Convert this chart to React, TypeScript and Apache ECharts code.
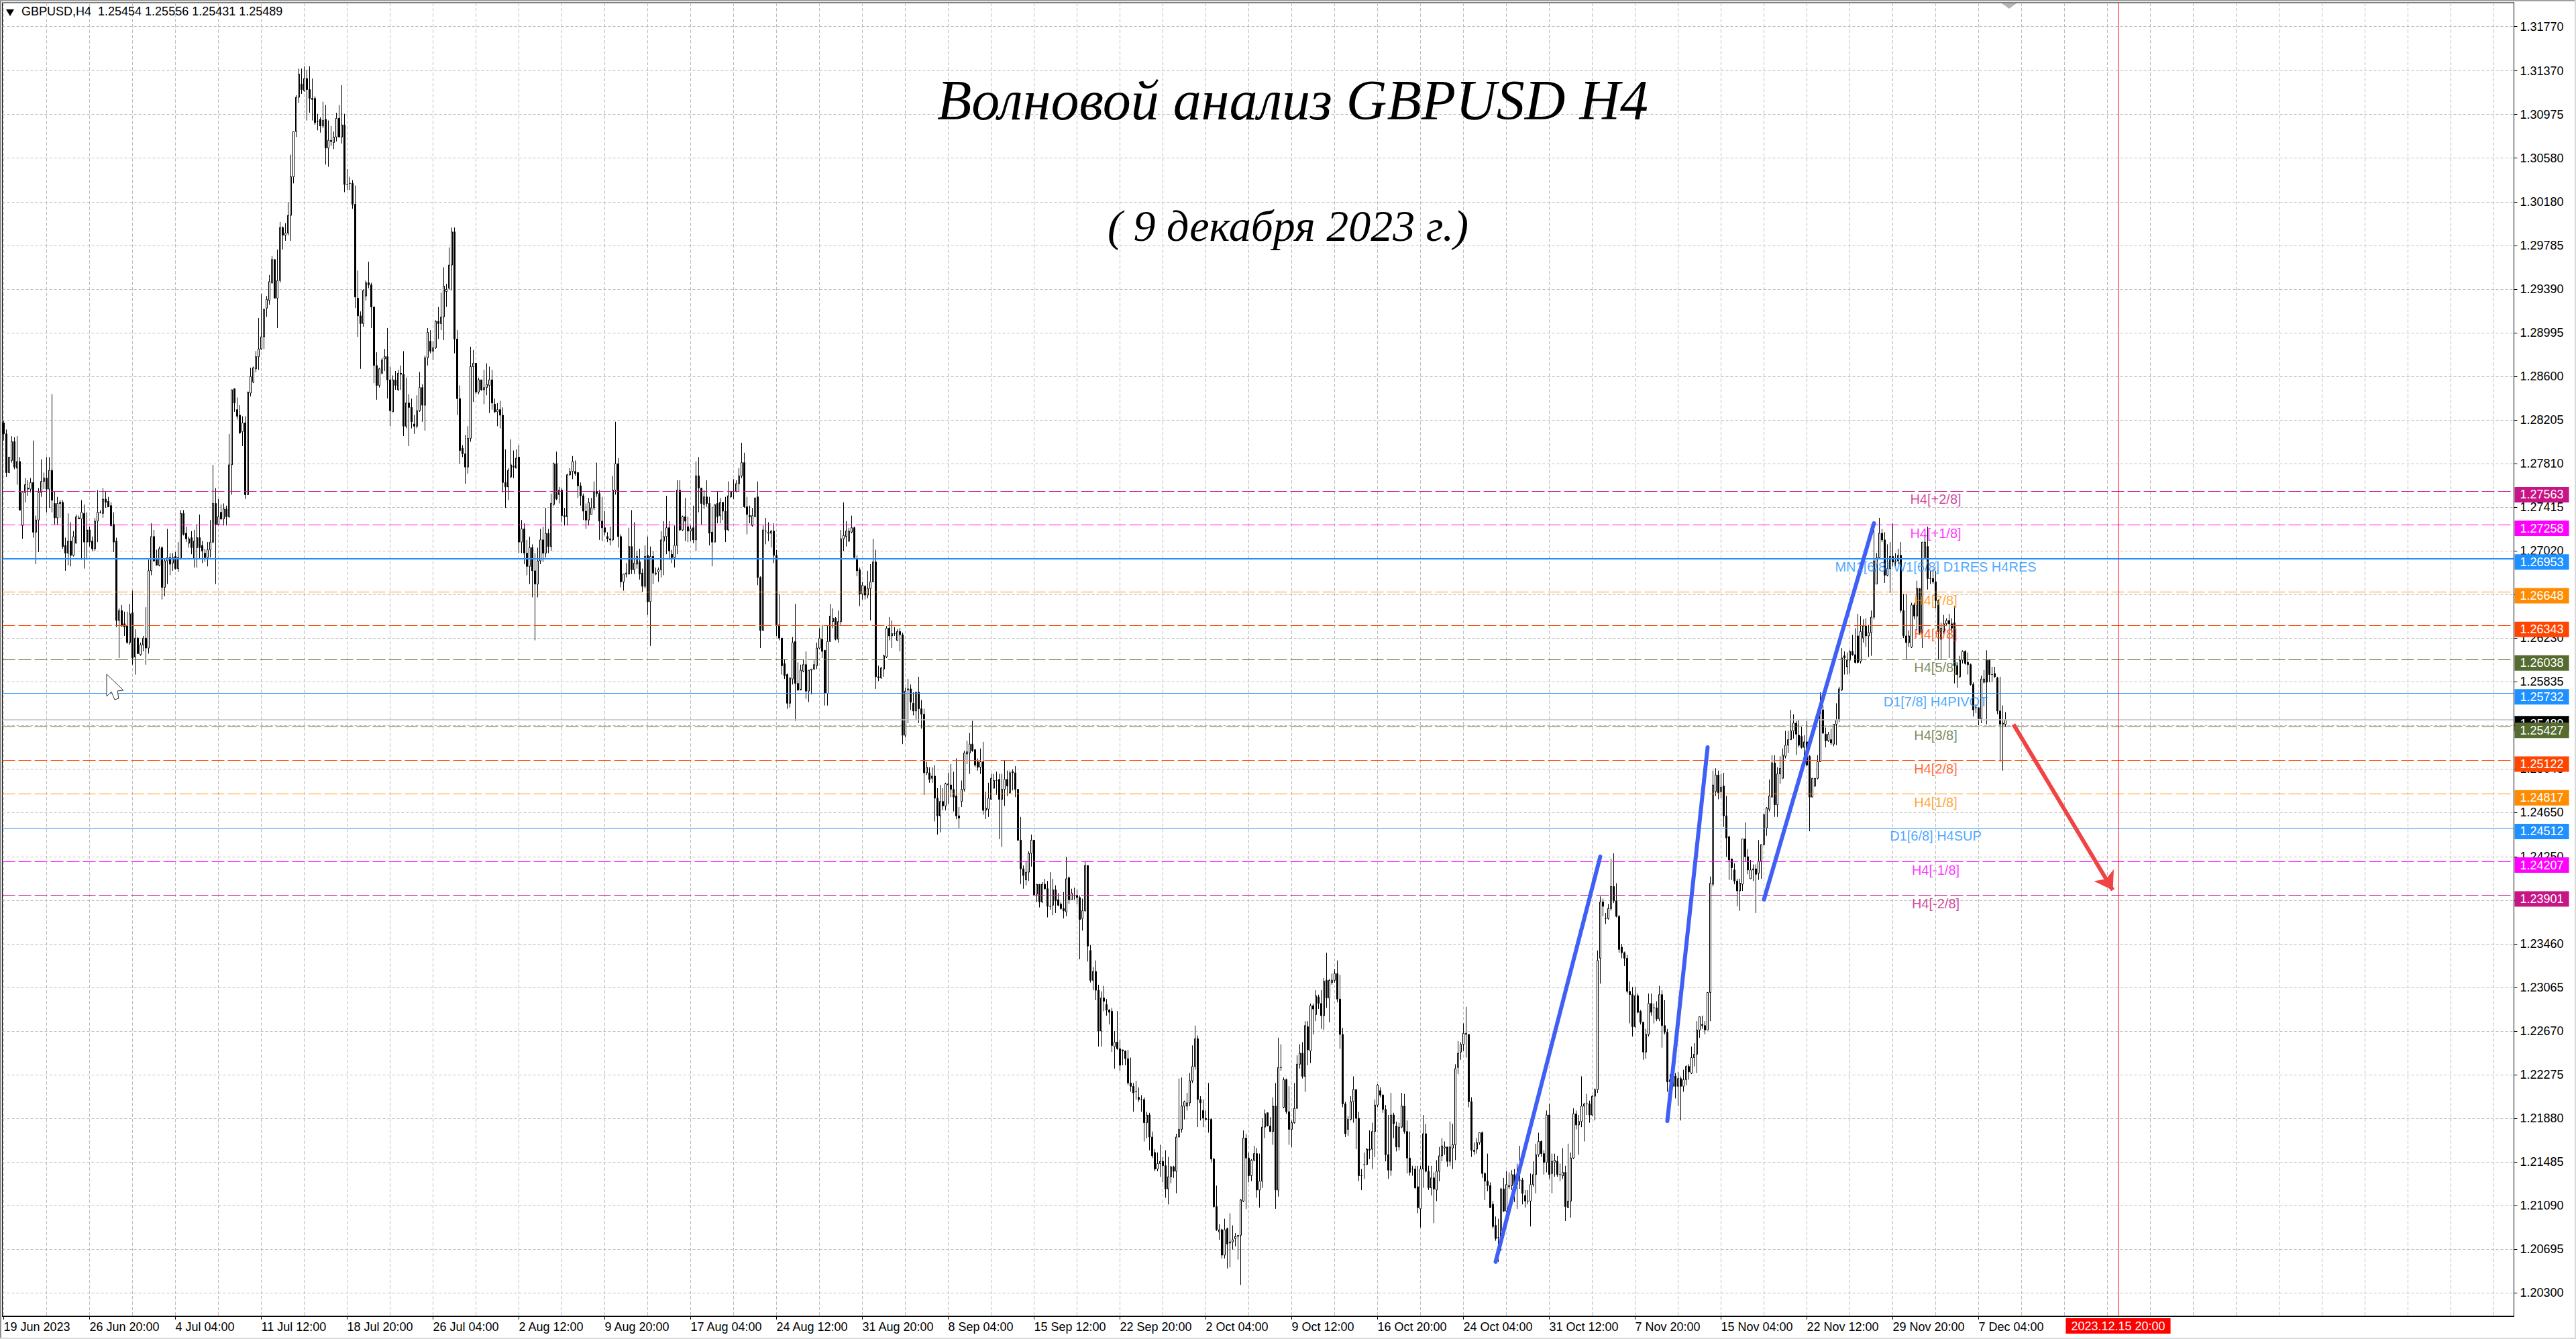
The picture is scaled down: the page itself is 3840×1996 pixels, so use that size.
import React, { useEffect, useRef } from "react";
import * as echarts from "echarts";

// All candle values: pips above 1.2000, each [open, close, low, high]
const barsJunJul = [[818,808,802,820],[808,773,769,812],[773,787,773,787],[784,801,782,806],[801,778,776,805],[777,783,762,806],[783,739,739,787],[725,755,713,755],[755,762,746,768],[758,759,752,766],
[758,764,755,768],[764,719,714,802],[719,730,690,734],[730,755,701,759],[755,765,751,785],[765,768,758,773],[768,758,737,787],[758,775,741,787],[775,748,737,844],[745,732,726,756],
[732,745,726,751],[746,745,732,748],[746,706,704,748],[707,700,684,714],[700,711,689,736],[711,698,688,728],[698,715,697,720],[709,733,709,735],[731,732,731,734],[731,737,694,748],
[736,710,686,744],[710,721,694,737],[721,710,706,724],[711,704,702,715],[704,729,702,732],[729,737,710,757],[737,737,736,739],[736,749,732,759],[749,746,741,756],[747,742,742,751],
[743,725,724,746],[726,710,701,737],[711,639,633,714],[639,648,605,650],[648,634,634,653],[636,633,625,647],[634,619,618,647],[619,645,617,654],[646,605,599,666],[606,623,590,631],
[623,609,609,624],[608,617,607,619],[617,623,611,625],[623,614,599,651],[614,684,609,694],[684,715,680,727],[715,693,692,721],[694,689,689,703],[689,704,688,706],[705,669,658,706],
[669,693,661,695],[693,696,672,722],[696,690,680,700],[691,696,684,700],[697,686,685,701],[686,696,683,710],[695,736,694,739],[736,717,716,739],[718,713,710,724],[709,713,705,715],
[714,705,699,720],[695,711,687,721],[705,714,687,726],[714,705,695,735],[707,702,691,711],[700,696,692,704],[696,703,688,710],[703,710,696,730],[710,745,709,780],[745,726,672,759],
[726,733,725,749],[737,731,730,744],[731,740,725,745],[740,733,725,743],[733,780,732,808],[780,848,753,848],[849,836,828,849],[830,824,821,841],[825,809,808,834],[810,818,797,824],
[818,753,749,824],[753,846,753,846],[845,860,842,868],[855,868,854,869],[867,878,864,883],[878,885,866,913],[885,896,884,935],[896,921,885,921],[922,930,914,933],[929,946,925,952],
[945,966,944,969],[966,931,931,966],[931,947,904,975],[947,995,945,1000],[995,988,975,996],[988,990,983,999],[990,1006,988,1018],[1006,1041,983,1061],[1041,1082,1035,1082]];

const barsJulAug = [[1082,1113,1077,1115],[1113,1134,1108,1139],[1125,1120,1116,1139],[1119,1130,1118,1141],[1130,1120,1092,1138],[1120,1112,1099,1141],[1112,1111,1092,1130],[1112,1090,1088,1114],[1091,1091,1083,1098],[1093,1087,1081,1095],
[1087,1092,1085,1109],[1093,1067,1052,1106],[1067,1074,1050,1092],[1074,1073,1069,1087],[1072,1077,1066,1082],[1077,1094,1073,1099],[1094,1077,1077,1106],[1077,1088,1071,1124],[1088,1034,1027,1098],[1034,1034,1029,1048],
[1035,1035,1029,1041],[1035,1016,1012,1038],[1016,932,922,1033],[931,915,896,956],[915,908,867,919],[908,938,905,939],[933,945,929,947],[945,943,940,964],[943,923,904,945],[923,870,854,923],
[870,852,839,882],[852,867,850,868],[863,875,862,877],[876,878,865,885],[878,857,840,904],[857,829,815,869],[828,857,828,861],[857,852,848,865],[848,863,847,866],[863,862,848,870],
[862,815,806,883],[815,836,813,859],[836,832,797,844],[832,819,813,840],[817,815,808,825],[815,829,813,843],[829,850,828,864],[850,834,819,853],[834,877,811,879],[877,900,870,904],
[892,883,881,902],[883,886,875,892],[886,910,885,911],[910,908,894,923],[908,914,902,936],[914,942,893,959],[937,939,923,944],[940,961,939,977],[961,991,938,995],[991,894,881,995],
[894,840,825,902],[840,793,781,852],[795,790,787,798],[790,778,763,807],[778,804,772,815],[804,869,801,887],[869,872,837,884],[872,846,844,872],[846,857,844,859],[857,848,847,857],
[848,850,835,866],[850,853,843,872],[852,857,827,869],[857,836,830,866],[835,828,827,840],[828,830,815,836],[830,825,813,838],[825,764,755,832],[764,760,741,794],[760,775,748,777],
[769,780,768,803],[779,778,768,793],[777,786,777,794],[787,710,700,798],[710,722,700,730],[722,700,690,727],[700,688,680,712],[688,705,672,715],[705,684,660,708],[684,672,621,700],
[672,693,660,705],[693,712,690,722],[712,700,692,724],[700,718,696,741],[718,706,700,722],[706,745,702,754],[744,781,743,782],[781,749,748,792],[753,757,745,760],[757,734,728,759],
[734,733,725,741],[733,771,725,772],[771,774,770,777],[774,783,767,788],[774,772,770,784],[773,761,750,773],[761,752,743,764],[752,738,730,754],[738,730,722,745],[730,746,725,750]];

const barsAugSep = [[735,741,735,750],[741,756,739,765],[756,754,751,782],[754,729,712,757],[729,723,711,751],[723,719,716,738],[715,713,710,719],[713,712,707,724],[712,757,711,770],[757,781,753,819],
[781,715,705,786],[715,674,669,717],[674,681,666,681],[681,682,678,691],[681,706,681,723],[706,685,681,739],[685,691,681,728],[690,697,686,702],[692,681,676,704],[682,670,665,686],
[670,697,668,707],[698,656,644,715],[656,697,616,706],[697,682,672,702],[681,682,680,687],[683,685,674,687],[685,712,678,720],[711,715,680,729],[715,723,699,752],[723,702,694,729],
[699,696,691,703],[696,707,687,725],[707,757,699,766],[757,721,720,766],[721,733,720,734],[733,729,711,750],[724,720,710,733],[720,722,711,725],[723,712,709,743],[712,770,702,783],
[770,759,737,787],[759,745,726,759],[744,751,740,757],[751,745,742,766],[745,718,707,751],[719,710,688,742],[710,744,710,744],[745,733,727,756],[734,746,727,750],[746,738,730,746],
[738,721,710,751],[721,752,720,765],[751,756,750,756],[756,756,749,767],[756,763,755,766],[763,770,756,777],[770,782,768,800],[782,742,741,791],[742,735,717,751],[734,733,727,743],
[725,734,724,741],[733,750,733,750],[751,678,671,765],[678,630,614,679],[630,721,630,725],[720,720,708,732],[718,719,711,728],[718,720,705,721],[720,698,691,727],[698,635,625,703],
[635,623,621,663],[623,598,590,623],[600,589,586,604],[590,564,559,591],[564,587,560,587],[586,619,581,624],[620,582,548,654],[582,576,575,601],[576,594,577,599],[593,599,592,604],
[599,575,568,611],[575,594,565,594],[594,595,572,595],[595,599,594,603],[598,614,595,619],[614,623,613,632],[622,611,605,635],[612,573,562,612],[573,620,562,634],[620,643,620,654],
[638,641,632,650],[641,622,621,642],[622,638,619,648],[638,713,635,721],[713,716,702,746],[715,720,706,729],[711,720,710,723],[719,723,718,734],[723,696,695,724],[695,684,679,698],
[685,663,652,687],[663,671,658,674],[670,662,658,671],[662,668,659,684],[668,674,639,690],[674,692,674,713],[692,588,577,703],[588,587,584,598],[587,596,586,597],[595,607,588,608]];

const barsSepOct = [[606,632,605,634],[632,625,621,642],[625,627,614,639],[627,627,625,633],[621,629,621,631],[629,626,611,632],[626,535,527,628],[535,575,533,578],[576,577,546,586],[577,565,558,581],
[564,557,553,574],[557,574,549,574],[574,559,546,588],[559,554,541,567],[554,501,481,559],[501,506,499,511],[501,495,492,506],[496,498,492,506],[498,478,457,508],[478,462,445,487],
[462,475,447,490],[475,471,467,487],[471,491,467,492],[490,491,473,501],[490,486,479,509],[486,479,466,502],[480,462,459,514],[462,460,451,470],[475,486,470,494],[486,519,484,521],
[518,520,509,530],[519,527,500,537],[527,521,520,548],[522,508,506,522],[511,506,503,514],[506,511,500,523],[511,467,463,529],[467,469,459,484],[468,478,461,492],[477,496,477,500],
[487,494,487,500],[494,494,481,502],[495,477,441,500],[477,486,434,500],[486,495,471,512],[495,489,480,503],[483,501,482,503],[502,501,485,504],[501,486,479,507],[486,440,439,486],
[440,414,400,461],[414,408,396,417],[404,411,399,421],[411,428,403,430],[428,440,416,445],[440,390,390,440],[391,400,384,400],[400,384,379,400],[384,400,383,402],[400,396,395,405],
[396,380,370,403],[380,380,377,411],[381,395,372,405],[395,385,374,399],[386,381,380,392],[382,378,377,384],[378,376,369,393],[375,405,371,425],[406,386,382,407],[386,392,386,396],
[390,390,386,397],[390,388,382,395],[388,368,332,390],[369,376,358,387],[376,417,375,421],[417,344,330,417],[340,313,311,345],[313,321,304,325],[321,304,295,331],[304,267,253,309],
[267,297,253,303],[297,294,285,308],[291,286,281,296],[286,284,273,287],[285,254,248,288]];

const barsOctNov = [[253,257,233,267],[257,251,250,285],[251,236,231,259],[250,249,236,250],[249,242,236,249],[242,220,218,250],[220,217,212,243],[217,211,194,220],[212,212,205,222],[207,205,203,216],
[205,205,194,209],[205,184,167,207],[184,191,170,194],[191,171,159,193],[171,154,152,176],[157,142,140,160],[142,147,140,157],[147,149,135,164],[149,145,130,153],[145,124,116,159],
[124,135,110,153],[135,144,129,145],[144,140,134,145],[140,171,120,174],[171,178,171,224],[178,199,175,225],[199,203,187,204],[199,202,195,211],[202,222,199,229],[222,235,220,254],
[235,260,232,272],[260,205,180,263],[205,202,186,208],[195,188,180,205],[188,187,186,195],[187,187,175,220],[187,151,148,188],[151,108,107,152],[108,87,86,127],[85,87,78,92],
[87,64,61,88],[64,87,61,97],[88,74,52,89],[75,76,53,102],[76,78,69,91],[79,81,72,84],[81,82,60,82],[82,114,37,115],[113,170,112,177],[170,152,106,174],
[152,136,130,157],[136,150,131,151],[150,156,149,163],[156,123,116,161],[123,131,107,156],[131,180,125,188],[180,192,170,196],[193,181,181,193],[181,176,176,189],[176,199,164,207],
[199,123,106,220],[123,234,117,261],[234,234,231,255],[198,223,197,225],[223,194,192,224],[194,178,164,217],[178,184,162,186],[184,197,183,220],[197,237,197,245],[237,247,233,255],
[247,226,224,257],[226,272,212,276],[271,250,236,276],[249,290,238,292],[290,287,264,292],[282,299,276,304],[298,292,287,300],[292,281,269,304],[281,312,268,315],[313,297,288,338],
[297,313,275,314],[311,313,309,319],[313,319,311,323],[319,296,293,331],[296,264,251,318],[264,201,198,270],[201,174,171,203],[178,187,172,190],[187,203,186,208],[203,214,184,226],
[214,188,160,214],[188,136,131,194],[136,136,123,142],[146,146,133,157],[146,160,146,161],[160,159,151,177],[160,176,142,184],[176,200,153,205],[200,218,198,219],[213,209,207,216],
[209,196,193,210],[196,155,149,200],[155,141,133,191],[141,191,136,211],[191,183,170,193],[181,162,158,185],[162,180,159,184],[180,199,179,211],[199,176,174,210],[176,152,138,186],
[152,139,136,176],[142,142,136,145],[142,125,124,145],[126,107,102,145],[106,142,89,145],[142,174,125,191],[174,140,139,183],[140,125,123,145],[125,134,118,145],[134,124,93,139],
[123,140,113,150],[140,154,131,162],[154,163,149,170],[161,162,155,167],[162,149,144,162],[149,162,145,185],[161,164,142,183],[164,233,150,237],[234,247,228,258],[248,255,241,257]];

const barsOctCut = [[255,265,249,274],[264,265,243,289],[264,203,198,264],[203,159,153,207],[159,158,155,166],[160,166,156,170],[166,175,164,175],[175,138,134,176],[138,131,114,139],[131,127,122,156],
[127,107,107,130],[110,90,88,113],[91,79,77,99],[80,80,58,97],[80,124,68,125],[124,104,103,134],[104,128,103,140],[126,127,124,139],[127,137,123,141],[137,128,112,142],
[128,137,106,147],[132,132,124,163],[132,120,110,134],[118,113,107,123],[113,113,110,123],[113,128,90,138],[128,137,126,149],[137,155,120,165],[155,167,153,175],[167,156,153,168],
[156,148,137,159],[148,191,139,195],[191,137,133,201],[138,149,120,156],[148,150,135,156],[149,137,135,154],[137,137,131,147],[136,139,133,161],[139,108,95,145],[107,113,107,165],
[113,152,98,157],[152,192,151,197],[192,182,178,195],[182,185,155,191],[185,199,180,226],[199,201,167,202],[201,201,191,210],[201,191,184,204],[191,208,190,209],[208,214,186,215],
[214,331,211,340],[333,384,310,389],[384,380,371,387],[369,369,364,374],[369,378,368,382],[378,398,376,423],[398,385,383,428],[385,371,370,401],[371,341,338,372],[343,338,333,346],
[338,333,326,339],[333,303,301,336],[303,300,274,312],[300,271,262,307],[271,299,270,307],[299,284,283,301],[285,275,273,286],[275,248,241,275],[248,264,242,269],[264,292,262,301],
[292,284,281,301],[288,288,274,292],[288,278,276,294],[278,300,276,308],[300,272,252,304],[272,266,264,295],[266,221,212,269],[221,223,218,228],[223,217,215,238],[226,217,206,229],
[217,224,199,230],[224,217,186,226],[217,223,212,232],[223,235,218,236],[235,230,223,237],[229,243,228,253],[243,246,235,256],[246,268,229,276],[268,280,261,280],[273,272,269,281],
[272,268,264,276],[268,302,268,302],[302,401,276,407],[400,490,398,503],[484,499,480,505]];

const barsNovDec = [[499,483,477,503],[484,488,478,500],[489,462,452,501],[462,442,425,480],[443,422,404,444],[423,415,404,423],[413,403,400,419],[403,394,380,405],[394,401,376,405],[400,441,394,441],
[441,425,421,456],[425,413,409,432],[405,413,405,422],[413,414,403,418],[414,409,374,418],[410,421,404,440],[421,436,405,436],[436,463,435,464],[451,469,444,470],[468,480,466,495],
[479,510,479,517],[510,472,461,517],[472,500,461,506],[500,505,491,516],[496,517,496,523],[516,526,514,539],[526,531,519,539],[531,539,531,558],[539,546,532,554],[546,536,517,548],
[535,526,524,549],[534,524,523,543],[524,529,516,535],[529,508,507,548],[516,479,448,517],[479,496,479,496],[489,496,488,496],[496,511,495,517],[511,558,511,574],[558,537,536,562],
[536,530,524,542],[530,536,529,538],[531,528,526,541],[527,545,525,545],[545,549,526,564],[549,577,547,579],[576,605,575,614],[607,605,590,611],[597,603,590,610],[603,611,591,612],
[611,608,607,626],[608,601,600,632],[625,601,600,645],[602,629,600,643],[623,634,619,640],[634,625,615,641],[625,628,606,635],[628,642,607,648],[642,693,640,722],[672,696,672,700],
[696,718,695,732],[718,712,710,722],[712,680,673,719],[680,686,679,708],[686,697,664,710],[697,692,688,727],[692,693,688,700],[693,698,690,704],[698,648,646,710],[648,625,623,663],
[625,619,604,663],[619,625,615,630],[615,653,614,655],[653,643,640,655],[643,668,630,675],[668,628,626,668],[628,710,614,710],[696,710,695,717],[706,677,667,724],[677,677,672,684],
[677,674,672,686],[674,657,650,684],[657,629,604,658],[622,632,604,637],[629,636,627,644],[636,639,634,641],[639,636,605,645],[636,632,628,641],[637,598,582,652],[598,590,578,601],
[588,603,587,607],[603,611,600,612],[611,600,599,612],[601,599,590,610],[599,581,580,600],[581,558,552,583],[560,560,555,563],[560,550,544,560],[550,586,546,589],[583,586,582,594],
[603,583,545,612],[603,590,583,604],[590,590,583,597],[591,588,587,597],[587,557,554,588],[557,545,511,588],[545,546,503,562],[545,549,543,556]];

const tickLabels = ["19 Jun 2023","26 Jun 20:00","4 Jul 04:00","11 Jul 12:00","18 Jul 20:00","26 Jul 04:00","2 Aug 12:00","9 Aug 20:00","17 Aug 04:00","24 Aug 12:00","31 Aug 20:00","8 Sep 04:00","15 Sep 12:00","22 Sep 20:00","2 Oct 04:00","9 Oct 12:00","16 Oct 20:00","24 Oct 04:00","31 Oct 12:00","7 Nov 20:00","15 Nov 04:00","22 Nov 12:00","29 Nov 20:00","7 Dec 04:00"];
const priceTicks = [1.203,1.20695,1.2109,1.21485,1.2188,1.22275,1.2267,1.23065,1.2346,1.23855,1.2425,1.2465,1.25045,1.2544,1.25835,1.2623,1.26625,1.2702,1.27415,1.2781,1.28205,1.286,1.28995,1.2939,1.29785,1.3018,1.3058,1.30975,1.3137,1.3177];

const levelPrices = [1.27563,1.27258,1.26953,1.26648,1.26343,1.26038,1.25732,1.25489,1.25427,1.25122,1.24817,1.24512,1.24207,1.23901];
const levelColors = ["#C71585","#FF00FF","#1E90FF","#FF8C00","#FF4500","#556B2F","#1E90FF","#000000","#556B2F","#FF4500","#FF8C00","#1E90FF","#FF00FF","#C71585"];
const levelTexts = ["H4[+2/8]","H4[+1/8]","MN1[6/8] W1[6/8] D1RES H4RES","H4[7/8]","H4[6/8]","H4[5/8]","D1[7/8] H4PIVOT","","H4[3/8]","H4[2/8]","H4[1/8]","D1[6/8] H4SUP","H4[-1/8]","H4[-2/8]"];

const waveLines = [[[556,1.2058],[595,1.24251]],[[620,1.21856],[635,1.25241]],[[656,1.23862],[697,1.27271]]];
const forecast = [[749,1.25448],[786,1.23947]];
const crossBar = 788;
const crossLabel = "2023.12.15 20:00";

const FONT = "Liberation Sans";
const SLOTS = 936;
const allBars = [...barsJunJul,...barsJulAug,...barsAugSep,...barsSepOct,...barsOctNov,...barsOctCut,...barsNovDec];
const toPrice = (v: number) => +(1.2 + v / 10000).toFixed(5);
const categories = Array.from({ length: SLOTS }, (_, i) => (i % 32 === 0 && tickLabels[i / 32]) || "");
const GRID_COLOR = "#bdbdbd";

export default function App() {
  const ref = useRef<HTMLDivElement>(null);
  useEffect(() => {
    const chart = echarts.init(ref.current!, undefined, { renderer: "svg" });
    const markLines: any[] = levelPrices.map((p, i) => {
      const solid = levelColors[i] === "#1E90FF";
      const isLast = p === 1.25489;
      return {
        yAxis: p,
        lineStyle: {
          color: isLast ? "#c0c0c0" : levelColors[i],
          width: i === 2 ? 2 : isLast ? 1.5 : 1,
          type: solid || isLast ? "solid" : [19, 5],
        },
        label: {
          show: true, position: "end", formatter: p.toFixed(5), color: "#fff",
          backgroundColor: levelColors[i], fontFamily: FONT, fontSize: 18,
          padding: [3, 8, 2, 8], distance: 1, offset: [0, 5.5],
        },
      };
    });
    markLines.push({
      xAxis: crossBar,
      lineStyle: { color: "#ff0000", width: 1, type: "solid" },
      label: {
        show: true, position: "start", formatter: crossLabel, color: "#fff", backgroundColor: "#ff0000",
        fontFamily: FONT, fontSize: 18, padding: [3, 8, 2, 8], distance: 3,
      },
    });
    chart.setOption({
      animation: false,
      backgroundColor: "#fff",
      grid: { left: 3.5, top: 4, width: 3744, height: 1958, show: true, borderColor: "#000", borderWidth: 1, containLabel: false },
      xAxis: {
        type: "category", data: categories, boundaryGap: true,
        axisLine: { show: true, lineStyle: { color: "#000", width: 1 }, onZero: false },
        axisTick: { show: true, alignWithLabel: true, length: 5, lineStyle: { color: "#000" }, interval: (i: number) => i % 32 === 0 && i <= 736 },
        axisLabel: { show: true, interval: (i: number) => i % 32 === 0 && i <= 736, align: "left", color: "#000", fontFamily: FONT, fontSize: 18, margin: 7, hideOverlap: false },
        splitLine: { show: true, alignWithLabel: true, interval: (i: number) => i % 16 === 0, lineStyle: { color: GRID_COLOR, type: [5, 3], width: 1 } },
      },
      yAxis: {
        type: "value", position: "right", min: 1.20087, max: 1.31987, scale: true,
        axisLine: { show: true, onZero: false, lineStyle: { color: "#000", width: 1 } },
        axisTick: { show: true, length: 5, customValues: priceTicks, lineStyle: { color: "#000" } },
        axisLabel: { show: true, customValues: priceTicks, formatter: (v: number) => v.toFixed(5), color: "#000", fontFamily: FONT, fontSize: 18, margin: 9 },
        splitLine: { show: true, lineStyle: { color: GRID_COLOR, type: [4, 3], width: 1 } },
      },
      series: [
        {
          type: "candlestick", barWidth: 2, z: 3, large: false, progressive: 0,
          data: allBars.map((b) => b.map(toPrice)),
          itemStyle: { color: "#fff", color0: "#000", borderColor: "#000", borderColor0: "#000", borderWidth: 1 },
        },
        {
          type: "line", data: [], z: 2, silent: true,
          markLine: { silent: true, symbol: "none", animation: false, precision: 5, data: markLines },
        },
        ...waveLines.map((w) => ({
          type: "line", data: w, z: 6, symbol: "none", silent: true,
          lineStyle: { color: "#4060F5", width: 6, cap: "round" },
        })),
        {
          type: "line", data: [], z: 6, silent: true,
          markLine: {
            silent: true, symbol: ["none", "arrow"], symbolSize: 26, animation: false,
            lineStyle: { color: "#F04444", width: 6, type: "solid" }, label: { show: false },
            data: [[{ coord: forecast[0], lineStyle: { color: "#F04444", width: 6, type: "solid" } }, { coord: forecast[1] }]],
          },
        },
        {
          type: "scatter", z: 7, silent: true, symbolSize: 1, itemStyle: { color: "transparent" },
          data: levelPrices.map((p, i) => ({
            value: [720, p],
            label: { show: !!levelTexts[i], position: "bottom", distance: 2, formatter: levelTexts[i], color: levelColors[i], fontFamily: FONT, fontSize: 20 },
          })),
        },
      ],
      graphic: [
        { type: "rect", silent: true, z: 50, shape: { x: 0, y: 0, width: 3840, height: 2 }, style: { fill: "#a0a0a0" } },
        { type: "rect", silent: true, z: 50, shape: { x: 0, y: 0, width: 2, height: 1996 }, style: { fill: "#909090" } },
        { type: "rect", silent: true, z: 50, shape: { x: 0, y: 1994, width: 3840, height: 2 }, style: { fill: "#d8d8d8" } },
        { type: "rect", silent: true, z: 50, shape: { x: 3838, y: 0, width: 2, height: 1996 }, style: { fill: "#d8d8d8" } },
        { type: "polygon", silent: true, z: 50, shape: { points: [[2984, 5], [3006, 5], [2995, 13]] }, style: { fill: "#b4b4b4" } },
        { type: "polygon", silent: true, z: 50, shape: { points: [[9, 14], [21, 14], [15, 24]] }, style: { fill: "#000" } },
        { type: "text", silent: true, z: 50, x: 32, y: 8, style: { text: "GBPUSD,H4  1.25454 1.25556 1.25431 1.25489", fill: "#000", font: `18px "${FONT}"` } },
        { type: "polygon", silent: true, z: 50, shape: { points: [[159, 1005], [184, 1029], [175, 1030], [177, 1041], [171, 1043], [166, 1031], [159, 1038]] }, style: { fill: "#fff", stroke: "#333", lineWidth: 1 } },
        { type: "text", silent: true, z: 50, x: 1927, y: 107, style: { text: "Волновой анализ GBPUSD H4", fill: "#000", font: `italic 84px "Liberation Serif"`, textAlign: "center", shadowBlur: 6, shadowColor: "rgba(0,0,0,0.55)", shadowOffsetX: 3, shadowOffsetY: 5 } },
        { type: "text", silent: true, z: 50, x: 1920, y: 303, style: { text: "( 9 декабря 2023 г.)", fill: "#000", font: `italic 66px "Liberation Serif"`, textAlign: "center", shadowBlur: 6, shadowColor: "rgba(0,0,0,0.55)", shadowOffsetX: 3, shadowOffsetY: 5 } },
      ],
    });
    return () => chart.dispose();
  }, []);
  return <div ref={ref} style={{ position: "fixed", left: 0, top: 0, width: 3840, height: 1996, background: "#fff" }} />;
}
